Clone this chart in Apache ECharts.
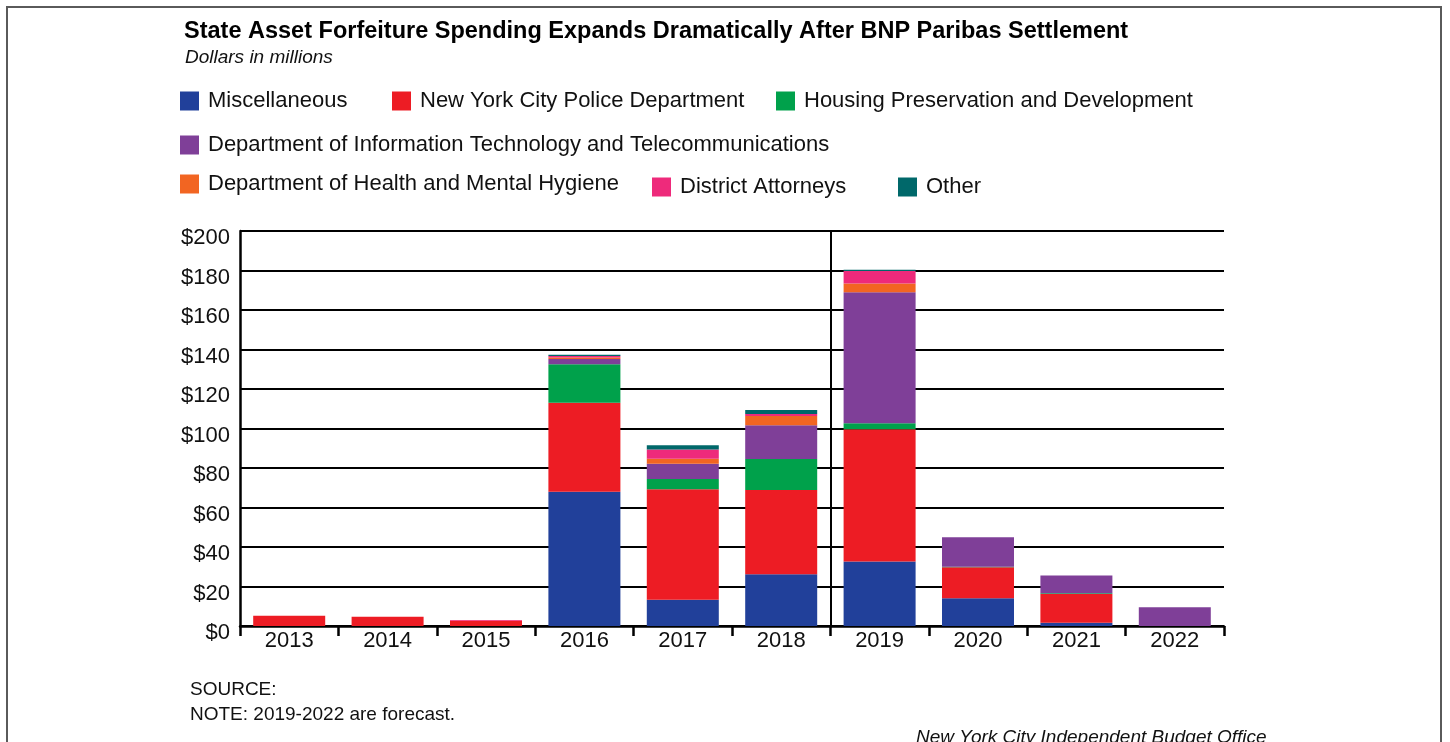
<!DOCTYPE html>
<html>
<head>
<meta charset="utf-8">
<title>State Asset Forfeiture Spending</title>
<script src="https://cdn.jsdelivr.net/npm/echarts@6/dist/echarts.min.js"></script>
<style>
    html, body { margin: 0; padding: 0; background: #fff; overflow: hidden; }
    #frame {
        position: absolute; left: 6px; top: 6px; width: 1436px; height: 760px;
        border: 2px solid #5a5a5a; box-sizing: border-box;
    }
    #chart { position: absolute; left: 0; top: 0; width: 1450px; height: 742px; }
</style>
</head>
<body>
<div id="frame"></div>
<div id="chart"></div>
<script>
// ======================
// DATOS
// ======================
const years = ["2013", "2014", "2015", "2016", "2017", "2018", "2019", "2020", "2021", "2022"];

const seriesNames = [
    "Miscellaneous",
    "New York City Police Department",
    "Housing Preservation and Development",
    "Department of Information Technology and Telecommunications",
    "Department of Health and Mental Hygiene",
    "District Attorneys",
    "Other"
];

const miscellaneous = [0, 0, 0, 68, 13.3, 26.2, 32.6, 14, 1.7, 0];
const nypd          = [5.2, 4.7, 2.7, 45, 55.9, 42.7, 67, 15.7, 14.5, 0];
const hpd           = [0, 0, 0, 19.5, 5.2, 15.7, 3, 0.3, 0.4, 0];
const doitt         = [0, 0, 0, 2.7, 7.8, 17, 66.4, 15, 9, 9.5];
const dohmh         = [0, 0, 0, 0.8, 2.5, 4.7, 4.4, 0, 0, 0];
const districtAtty  = [0, 0, 0.3, 0.7, 4.7, 1, 6.3, 0, 0, 0];
const other         = [0, 0, 0, 0.7, 2.1, 2.1, 0.7, 0, 0, 0];

const seriesValues = [miscellaneous, nypd, hpd, doitt, dohmh, districtAtty, other];

// forecast starts after this many categories (2013-2018)
const forecastBoundary = 6;

// ======================
// COLORES
// ======================
const COLORS = ["#21409a", "#ed1c24", "#00a14b", "#7f3f98", "#f26522", "#ee2a7b", "#00686a"];

const FONT = "'Liberation Sans', Arial, sans-serif";

// legend placement (one legend per item, as in the original layout)
const legendSpots = [
    { left: 180, top: 90 },
    { left: 392, top: 90 },
    { left: 776, top: 90 },
    { left: 180, top: 134 },
    { left: 180, top: 173 },
    { left: 652, top: 176 },
    { left: 898, top: 176 }
];

function renderChart() {
    const chart = echarts.init(document.getElementById("chart"));

    const legends = seriesNames.map((name, i) => ({
        data: [name],
        left: legendSpots[i].left,
        top: legendSpots[i].top,
        padding: 0,
        orient: "horizontal",
        icon: "rect",
        itemWidth: 19,
        itemHeight: 19,
        selectedMode: false,
        textStyle: {
            fontFamily: FONT,
            fontSize: 22,
            color: "#111",
            padding: [0, 0, 0, 4]
        }
    }));

    const bars = seriesNames.map((name, i) => ({
        name: name,
        type: "bar",
        stack: "total",
        barWidth: 72,
        data: seriesValues[i],
        itemStyle: { color: COLORS[i] },
        emphasis: { disabled: true }
    }));

    // divider between actual and forecast years
    bars.push({
        type: "line",
        xAxisIndex: 1,
        data: [],
        silent: true,
        markLine: {
            symbol: "none",
            silent: true,
            label: { show: false },
            lineStyle: { color: "#000", width: 2, type: "solid" },
            data: [{ xAxis: forecastBoundary }]
        }
    });

    const note = { fontFamily: FONT, fontSize: 19, fontWeight: "normal", color: "#111" };

    chart.setOption({
        backgroundColor: "transparent",
        animation: false,
        title: [
            {
                text: "State Asset Forfeiture Spending Expands Dramatically After BNP Paribas Settlement",
                left: 184,
                top: 20,
                padding: 0,
                textStyle: { fontFamily: FONT, fontSize: 23.5, fontWeight: "bold", color: "#000" }
            },
            {
                text: "Dollars in millions",
                left: 185,
                top: 48,
                padding: 0,
                textStyle: { ...note, fontStyle: "italic" }
            },
            { text: "SOURCE:", left: 190, top: 680, padding: 0, textStyle: note },
            { text: "NOTE: 2019-2022 are forecast.", left: 190, top: 705, padding: 0, textStyle: note },
            {
                text: "New York City Independent Budget Office",
                left: 916,
                top: 728,
                padding: 0,
                textStyle: { ...note, fontStyle: "italic" }
            }
        ],
        legend: legends,
        grid: {
            left: 240,
            right: 226,
            top: 231,
            bottom: 116,
            containLabel: false
        },
        xAxis: [
            {
                type: "category",
                data: years,
                boundaryGap: true,
                axisLine: { show: true, lineStyle: { color: "#000", width: 2.5 } },
                axisTick: { show: true, interval: 0, length: 10, lineStyle: { color: "#000", width: 2.5 } },
                axisLabel: { color: "#111", fontFamily: FONT, fontSize: 22, margin: 4, interval: 0 },
                splitLine: { show: false }
            },
            {
                type: "value",
                min: 0,
                max: years.length,
                show: false
            }
        ],
        yAxis: {
            type: "value",
            min: 0,
            max: 200,
            interval: 20,
            axisLine: { show: true, lineStyle: { color: "#000", width: 2.5 } },
            axisTick: { show: false },
            axisLabel: {
                color: "#111",
                fontFamily: FONT,
                fontSize: 22,
                margin: 10,
                verticalAlign: "top",
                lineHeight: 14,
                formatter: v => "$" + v
            },
            splitLine: { show: true, lineStyle: { color: "#000", width: 2 } }
        },
        series: bars
    });

    window.addEventListener("resize", () => chart.resize());
}

if (document.readyState === "loading") {
    document.addEventListener("DOMContentLoaded", renderChart);
} else {
    renderChart();
}
</script>
</body>
</html>
